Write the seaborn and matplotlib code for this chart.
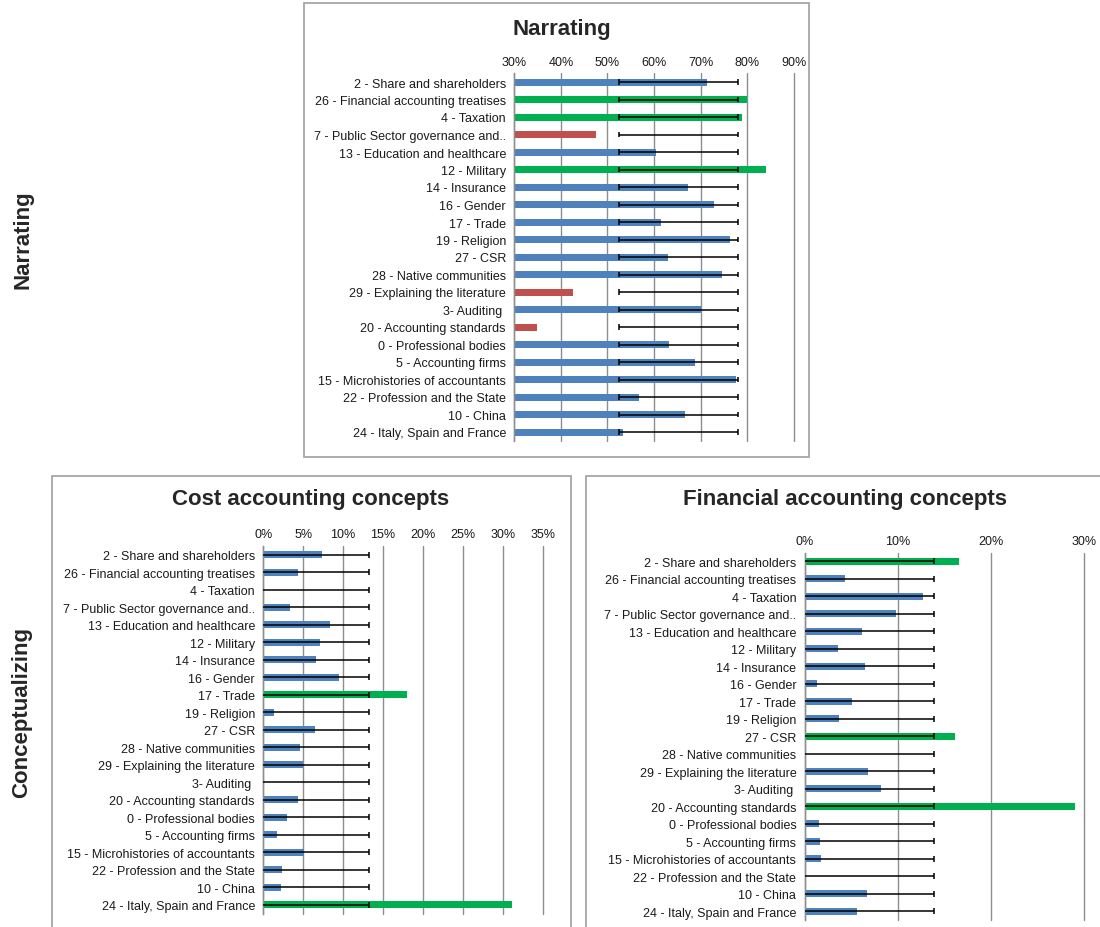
import matplotlib
matplotlib.use("Agg")
import matplotlib.pyplot as plt
from matplotlib.patches import Rectangle
from matplotlib.ticker import FuncFormatter, FixedLocator
import numpy as np
import pandas as pd
import seaborn as sns

# Topics (same order in every panel)
topics = [
    "2 - Share and shareholders",
    "26 - Financial accounting treatises",
    "4 - Taxation",
    "7 - Public Sector governance and..",
    "13 - Education and healthcare",
    "12 - Military",
    "14 - Insurance",
    "16 - Gender",
    "17 - Trade",
    "19 - Religion",
    "27 - CSR",
    "28 - Native communities",
    "29 - Explaining the literature",
    "3- Auditing ",
    "20 - Accounting standards",
    "0 - Professional bodies",
    "5 - Accounting firms",
    "15 - Microhistories of accountants",
    "22 - Profession and the State",
    "10 - China",
    "24 - Italy, Spain and France",
]

# Share of papers per topic (%)
narrating = [71.3, 80.0, 78.8, 47.5, 60.4, 84.0, 67.2, 72.9, 61.6, 76.3, 62.9,
             74.5, 42.5, 70.0, 34.8, 63.2, 68.8, 77.6, 56.8, 66.7, 53.3]
cost_concepts = [7.4, 4.3, 0.0, 3.3, 8.3, 7.1, 6.6, 9.5, 18.0, 1.3, 6.5,
                 4.6, 5.0, 0.0, 4.4, 3.0, 1.7, 5.1, 2.3, 2.2, 31.1]
financial_concepts = [16.6, 4.3, 12.7, 9.8, 6.2, 3.6, 6.5, 1.3, 5.1, 3.7, 16.1,
                      0.0, 6.8, 8.2, 29.0, 1.5, 1.6, 1.7, 0.0, 6.7, 5.6]

# Confidence bands (lower, upper) in %
narrating_band = (52.5, 78.0)
cost_band = (0.0, 13.2)
financial_band = (0.0, 13.9)

# Axis ticks (%)
narrating_ticks = [30, 40, 50, 60, 70, 80, 90]
cost_ticks = [0, 5, 10, 15, 20, 25, 30, 35]
financial_ticks = [0, 10, 20, 30]

BLUE = "#4F81BD"
GREEN = "#00B050"
RED = "#C0504D"
GRID = "#8E8E8E"

sns.set_style("white")
plt.rcParams["font.family"] = ["Liberation Sans", "DejaVu Sans"]

W, H = 1100, 928
fig = plt.figure(figsize=(W / 100, H / 100), dpi=100)


def px_axes(left, right, top, bottom):
    return fig.add_axes([left / W, 1 - bottom / H, (right - left) / W, (bottom - top) / H])


def panel(ax, values, band, ticks, tick_pad):
    lo, hi = band
    colors = [GREEN if v > hi else (RED if v < lo else BLUE) for v in values]
    df = pd.DataFrame({"topic": topics, "share": values})
    sns.barplot(data=df, x="share", y="topic", hue="topic", palette=colors,
                legend=False, orient="h", width=0.4, saturation=1,
                linewidth=0, ax=ax, zorder=2)
    n = len(topics)
    ypos = np.arange(n)
    ax.hlines(ypos, lo, hi, color="black", lw=1.1, zorder=3)
    ax.errorbar(np.full(n, hi), ypos, yerr=0.17, fmt="none", ecolor="black",
                elinewidth=1.1, zorder=3)
    if lo > ticks[0]:
        ax.errorbar(np.full(n, lo), ypos, yerr=0.17, fmt="none", ecolor="black",
                    elinewidth=1.1, zorder=3)
    ax.set_xlim(ticks[0], ticks[-1])
    ax.set_ylim(n - 0.5, -0.5)
    ax.xaxis.set_major_locator(FixedLocator(ticks))
    ax.xaxis.set_major_formatter(FuncFormatter(lambda v, p: f"{v:.0f}%"))
    ax.xaxis.tick_top()
    ax.tick_params(axis="x", length=0, pad=tick_pad, labelsize=9, labelcolor="#1a1a1a")
    ax.tick_params(axis="y", which="major", length=0, pad=6, labelsize=9, labelcolor="#1a1a1a")
    ax.yaxis.set_minor_locator(FixedLocator(np.arange(n + 1) - 0.5))
    ax.tick_params(axis="y", which="minor", length=4, width=1, color=GRID, direction="out")
    ax.grid(axis="x", color=GRID, lw=1.0, zorder=0)
    ax.grid(axis="y", visible=False)
    ax.set_axisbelow(True)
    for gl in ax.get_xgridlines():
        gl.set_clip_on(False)
    for s in ["top", "right", "bottom"]:
        ax.spines[s].set_visible(False)
    ax.spines["left"].set_color(GRID)
    ax.spines["left"].set_linewidth(1.0)
    ax.set_xlabel("")
    ax.set_ylabel("")


# Panel frames
for (l, t, r, b) in [(304, 4, 809, 458), (52, 477, 571, 940), (586, 477, 1110, 940)]:
    fig.patches.append(Rectangle((l / W, 1 - b / H), (r - l) / W, (b - t) / H,
                                 transform=fig.transFigure, fill=False,
                                 edgecolor="#A6A6A6", lw=1.3, zorder=0))

ax_top = px_axes(514.3, 793.7, 74.25, 441.75)
panel(ax_top, narrating, narrating_band, narrating_ticks, 4)

ax_cost = px_axes(263.3, 542.7, 547.0, 914.5)
panel(ax_cost, cost_concepts, cost_band, cost_ticks, 4)

ax_fin = px_axes(804.7, 1084.0, 553.5, 921.0)
panel(ax_fin, financial_concepts, financial_band, financial_ticks, 4)

# Panel titles
fig.text(562 / W, 1 - 29 / H, "Narrating", ha="center", va="center",
         fontsize=16, fontweight="bold")
fig.text(311 / W, 1 - 500 / H, "Cost accounting concepts", ha="center", va="center",
         fontsize=16, fontweight="bold")
fig.text(845 / W, 1 - 500 / H, "Financial accounting concepts", ha="center", va="center",
         fontsize=16, fontweight="bold")

# Row labels
fig.text(23 / W, 1 - 240 / H, "Narrating", ha="center", va="center", rotation=90,
         fontsize=16, fontweight="bold")
fig.text(22 / W, 1 - 713 / H, "Conceptualizing", ha="center", va="center", rotation=90,
         fontsize=16, fontweight="bold")

fig.savefig("out.png", dpi=100)
